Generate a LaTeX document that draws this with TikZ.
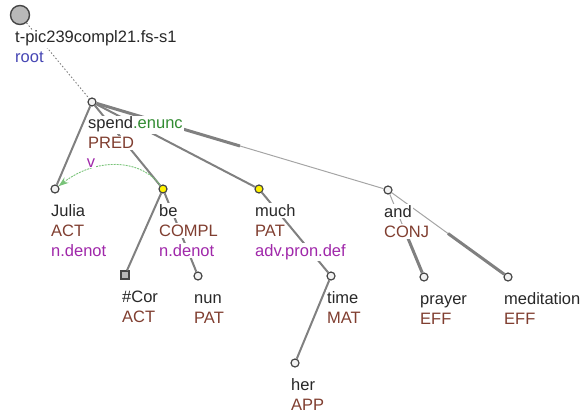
\documentclass[tikz,border=0pt]{standalone}
\usepackage{fontspec}
\setmainfont{Liberation Sans}
\usetikzlibrary{calc,arrows.meta}

\definecolor{edgegray}{RGB}{128,128,128}
\definecolor{thingray}{RGB}{165,165,165}
\definecolor{nodeline}{RGB}{70,70,70}
\definecolor{labtext}{RGB}{40,40,40}
\definecolor{functor}{RGB}{128,62,48}
\definecolor{sempos}{RGB}{160,40,170}
\definecolor{tgreen}{RGB}{50,140,50}
\definecolor{coref}{RGB}{120,195,120}
\definecolor{rootblue}{RGB}{70,70,180}

\begin{document}
\begin{tikzpicture}[x=1pt, y=-1pt,
    font=\fontsize{16.5}{19}\selectfont,
    tnode/.style={circle, draw=nodeline, line width=1.2pt, fill=gray!10,
        minimum size=8pt, inner sep=0pt},
    ynode/.style={tnode, fill=yellow},
    qnode/.style={rectangle, draw=nodeline, line width=1.2pt, fill=gray!55,
        minimum size=8pt, inner sep=0pt},
    edge/.style={draw=edgegray, line width=2pt},
    thickedge/.style={draw=edgegray, line width=3pt},
    thinedge/.style={draw=thingray, line width=1pt},
    lab/.style={anchor=base west, fill=white, text=labtext,
        inner xsep=1pt, inner ysep=1.5pt}]

    \useasboundingbox (0,0) rectangle (583,414);

    % Tree nodes
    \node[circle, draw=nodeline, line width=1.4pt, fill=gray!55,
        minimum size=19pt, inner sep=0pt] (root) at (20,15) {};
    \node[tnode] (spend) at (92,102) {};
    \node[tnode] (julia) at (55,189) {};
    \node[ynode] (be) at (163,189) {};
    \node[ynode] (much) at (259,189) {};
    \node[tnode] (and) at (388,190) {};
    \node[qnode] (cor) at (125,275) {};
    \node[tnode] (nun) at (198,276) {};
    \node[tnode] (time) at (331,276) {};
    \node[tnode] (prayer) at (424,277) {};
    \node[tnode] (medit) at (508,277) {};
    \node[tnode] (her) at (295,363) {};

    % Middle points of the coordination edges
    \coordinate (andmid) at ($(spend)!0.5!(and)$);
    \coordinate (prayermid) at ($(and)!0.5!(prayer)$);
    \coordinate (meditmid) at ($(and)!0.5!(medit)$);

    % Edges
    \draw[edgegray, line width=0.9pt, dash pattern=on 1.5pt off 2pt] (root) -- (spend);
    \draw[edge] (spend) -- (julia);
    \draw[edge] (spend) -- (be);
    \draw[edge] (spend) -- (much);
    \draw[thickedge] (spend) -- (andmid);
    \draw[thinedge] (andmid) -- (and);
    \draw[edge] (be) -- (cor);
    \draw[edge] (be) -- (nun);
    \draw[edge] (much) -- (time);
    \draw[edge] (time) -- (her);
    \draw[thinedge] (and) -- (prayermid);
    \draw[thickedge] (prayermid) -- (prayer);
    \draw[thinedge] (and) -- (meditmid);
    \draw[thickedge] (meditmid) -- (medit);

    % Labels, one line each
    \node[lab] (root1) at ($(root)+(-6,28)$) {t-pic239compl21.fs-s1};
    \node[lab, text=rootblue] (root2) at ($(root)+(-6,48)$) {root};

    \node[lab] (spend1) at ($(spend)+(-5,27)$) {spend\textcolor{tgreen}{.enunc}};
    \node[lab, text=functor] (spend2) at ($(spend)+(-5,47)$) {PRED};

    \node[lab] (julia1) at ($(julia)+(-5,27)$) {Julia};
    \node[lab, text=functor] (julia2) at ($(julia)+(-5,47)$) {ACT};
    \node[lab, text=sempos] (julia3) at ($(julia)+(-5,67)$) {n.denot};

    \node[lab] (be1) at ($(be)+(-5,27)$) {be};
    \node[lab, text=functor] (be2) at ($(be)+(-5,47)$) {COMPL};
    \node[lab, text=sempos] (be3) at ($(be)+(-5,67)$) {n.denot};

    \node[lab] (much1) at ($(much)+(-5,27)$) {much};
    \node[lab, text=functor] (much2) at ($(much)+(-5,47)$) {PAT};
    \node[lab, text=sempos] (much3) at ($(much)+(-5,67)$) {adv.pron.def};

    \node[lab] (and1) at ($(and)+(-5,27)$) {and};
    \node[lab, text=functor] (and2) at ($(and)+(-5,47)$) {CONJ};

    \node[lab] (cor1) at ($(cor)+(-4,27)$) {\#Cor};
    \node[lab, text=functor] (cor2) at ($(cor)+(-4,47)$) {ACT};

    \node[lab] (nun1) at ($(nun)+(-5,27)$) {nun};
    \node[lab, text=functor] (nun2) at ($(nun)+(-5,47)$) {PAT};

    \node[lab] (time1) at ($(time)+(-5,27)$) {time};
    \node[lab, text=functor] (time2) at ($(time)+(-5,47)$) {MAT};

    \node[lab] (prayer1) at ($(prayer)+(-5,27)$) {prayer};
    \node[lab, text=functor] (prayer2) at ($(prayer)+(-5,47)$) {EFF};

    \node[lab] (medit1) at ($(medit)+(-5,27)$) {meditation};
    \node[lab, text=functor] (medit2) at ($(medit)+(-5,47)$) {EFF};

    \node[lab] (her1) at ($(her)+(-5,27)$) {her};
    \node[lab, text=functor] (her2) at ($(her)+(-5,47)$) {APP};

    % Coreference arrow
    \draw[coref, line width=0.9pt, dash pattern=on 2pt off 1pt,
        -{Stealth[length=10pt, width=7pt]}]
        (be) .. controls +(-23,-31) and +(40,-31) .. (julia);
    \node[text=sempos, fill=white, inner sep=0.5pt] (corv) at (91,163) {v};

\end{tikzpicture}
\end{document}
